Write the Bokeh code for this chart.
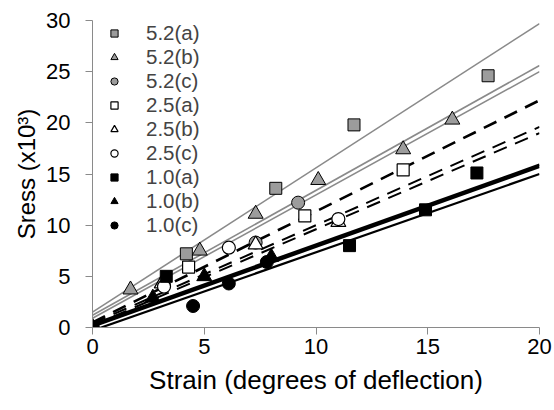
from bokeh.plotting import figure
from bokeh.models import Range1d, Legend, LegendItem, FixedTicker
from bokeh.embed import file_html
from bokeh.resources import INLINE

# ---- data ----
series_names = ["5.2(a)", "5.2(b)", "5.2(c)", "2.5(a)", "2.5(b)", "2.5(c)", "1.0(a)", "1.0(b)", "1.0(c)"]

x_52a = [0, 4.2, 8.2, 11.7, 17.7]
y_52a = [0, 7.2, 13.6, 19.8, 24.6]
x_52b = [0, 1.7, 4.8, 7.3, 10.1, 13.9, 16.1]
y_52b = [0, 3.7, 7.5, 11.1, 14.4, 17.4, 20.3]
x_52c = [0, 3.2, 7.3, 9.2]
y_52c = [0, 4.1, 8.3, 12.2]

x_25a = [0, 4.3, 9.5, 13.9]
y_25a = [0, 5.9, 10.9, 15.4]
x_25b = [0, 3.1, 7.3, 11.0]
y_25b = [0, 4.3, 8.1, 10.3]
x_25c = [0, 3.2, 6.1, 11.0]
y_25c = [0, 4.0, 7.8, 10.6]

x_10a = [0, 3.3, 11.5, 14.9, 17.2]
y_10a = [0, 5.0, 8.0, 11.5, 15.1]
x_10b = [0, 2.7, 5.0, 8.0]
y_10b = [0, 2.9, 5.0, 6.9]
x_10c = [0, 4.5, 6.1, 7.8]
y_10c = [0, 2.1, 4.3, 6.4]

# fitted lines: value at strain 0 and at strain 20
fit_x = [0, 20]
fit_52a = [1.5, 29.7]
fit_52b = [1.2, 25.6]
fit_52c = [0.9, 25.0]
fit_25a = [0.5, 22.2]
fit_25b = [0.4, 19.6]
fit_25c = [0.2, 19.0]
fit_10a = [0.3, 15.9]
fit_10b = [0.1, 15.7]
fit_10c = [-0.3, 15.0]

x_ticks = [0, 5, 10, 15, 20]
y_ticks = [0, 5, 10, 15, 20, 25, 30]

FONT = "Liberation Sans"
GRAY_FILL = "#9c9c9c"
GRAY_LINE = "#8a8a8a"

p = figure(width=554, height=410, output_backend="svg", toolbar_location=None,
           x_range=Range1d(0, 20), y_range=Range1d(0, 30),
           min_border_left=92, min_border_right=15, min_border_top=20, min_border_bottom=83)
p.outline_line_color = None
p.grid.visible = False
p.background_fill_color = "white"

# lines
p.line(fit_x, fit_52a, line_color=GRAY_LINE, line_width=1.6)
p.line(fit_x, fit_52b, line_color=GRAY_LINE, line_width=1.6)
p.line(fit_x, fit_52c, line_color=GRAY_LINE, line_width=1.6)
p.line(fit_x, fit_25a, line_color="black", line_width=2.6, line_dash="14 9")
p.line(fit_x, fit_25b, line_color="black", line_width=2.0, line_dash="14 9")
p.line(fit_x, fit_25c, line_color="black", line_width=2.0, line_dash="14 9")
p.line(fit_x, fit_10a, line_color="black", line_width=2.6)
p.line(fit_x, fit_10b, line_color="black", line_width=2.6)
p.line(fit_x, fit_10c, line_color="black", line_width=2.2)

# markers
r = []
r.append(p.scatter(x_52a, y_52a, marker="square", size=12, fill_color=GRAY_FILL, line_color="black", line_width=1))
r.append(p.scatter(x_52b, y_52b, marker="triangle", size=15, fill_color=GRAY_FILL, line_color="black", line_width=1))
r.append(p.scatter(x_52c, y_52c, marker="circle", size=13, fill_color=GRAY_FILL, line_color="black", line_width=1))
r.append(p.scatter(x_25a, y_25a, marker="square", size=12, fill_color="white", line_color="black", line_width=1.2))
r.append(p.scatter(x_25b, y_25b, marker="triangle", size=15, fill_color="white", line_color="black", line_width=1.2))
r.append(p.scatter(x_25c, y_25c, marker="circle", size=13, fill_color="white", line_color="black", line_width=1.2))
r.append(p.scatter(x_10a, y_10a, marker="square", size=12, fill_color="black", line_color="black"))
r.append(p.scatter(x_10b, y_10b, marker="triangle", size=15, fill_color="black", line_color="black"))
r.append(p.scatter(x_10c, y_10c, marker="circle", size=13, fill_color="black", line_color="black"))

legend = Legend(items=[LegendItem(label=n, renderers=[rr]) for n, rr in zip(series_names, r)],
                location=(12, 90), padding=0, margin=0, spacing=0,
                glyph_width=20, glyph_height=18, label_height=18, label_standoff=22,
                label_text_font=FONT, label_text_font_size="20.5px",
                background_fill_alpha=0, border_line_alpha=0)
p.add_layout(legend, "center")

for ax in (p.xaxis[0], p.yaxis[0]):
    ax.axis_line_color = "#8a8a8a"
    ax.axis_line_width = 1
    ax.major_tick_line_color = "#8a8a8a"
    ax.major_tick_out = 7
    ax.major_tick_in = 0
    ax.minor_tick_line_color = None
    ax.major_label_text_font = FONT
    ax.major_label_text_font_size = "22px"
    ax.major_label_text_color = "black"
    ax.axis_label_text_font = FONT
    ax.axis_label_text_font_style = "normal"
    ax.axis_label_text_color = "black"

p.xaxis.ticker = FixedTicker(ticks=x_ticks)
p.yaxis.ticker = FixedTicker(ticks=y_ticks)
p.xaxis.axis_label = "Strain (degrees of deflection)"
p.yaxis.axis_label = "Sress (x10³)"
p.xaxis.axis_label_text_font_size = "26px"
p.yaxis.axis_label_text_font_size = "24px"
p.xaxis.major_label_standoff = 4
p.yaxis.major_label_standoff = 15
p.xaxis.axis_label_standoff = 8
p.yaxis.axis_label_standoff = 3

open("out.html", "w").write(file_html(p, INLINE))
